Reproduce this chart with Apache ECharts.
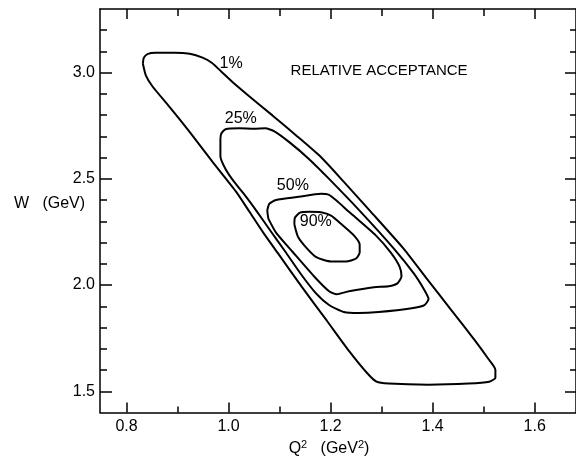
<!DOCTYPE html>
<html>
<head>
<meta charset="utf-8">
<script src="https://cdn.jsdelivr.net/npm/echarts/dist/echarts.min.js"></script>
<style>
html,body{margin:0;padding:0;background:#fff;}
#chart{width:576px;height:462px;}
</style>
</head>
<body>
<div id="chart"></div>
<script>
// Contour lines: [Q^2 (GeV^2), W (GeV)]
const contour1 = [
[0.832,3.043],[0.834,3.071],[0.842,3.089],[0.857,3.094],[0.894,3.094],[0.924,3.089],[0.949,3.071],[0.967,3.047],[0.986,3.005],[1.011,2.949],[1.041,2.888],[1.086,2.799],[1.132,2.706],[1.181,2.603],[1.226,2.486],[1.279,2.345],[1.343,2.172],[1.388,2.032],[1.435,1.887],[1.482,1.742],[1.509,1.653],[1.523,1.601],[1.523,1.564],[1.511,1.545],[1.470,1.536],[1.392,1.531],[1.314,1.536],[1.290,1.545],[1.271,1.587],[1.236,1.690],[1.193,1.831],[1.144,1.990],[1.097,2.149],[1.068,2.247],[1.041,2.345],[1.015,2.439],[0.969,2.579],[0.924,2.720],[0.885,2.837],[0.851,2.935],[0.838,2.986],[0.832,3.043]
];
const contour25 = [
[0.984,2.664],[0.984,2.687],[0.986,2.715],[0.994,2.734],[1.021,2.738],[1.050,2.736],[1.072,2.738],[1.090,2.724],[1.119,2.673],[1.158,2.593],[1.197,2.500],[1.259,2.345],[1.324,2.172],[1.363,2.055],[1.384,1.976],[1.392,1.934],[1.384,1.906],[1.359,1.891],[1.294,1.873],[1.255,1.868],[1.226,1.873],[1.197,1.906],[1.171,1.962],[1.142,2.051],[1.111,2.158],[1.082,2.256],[1.056,2.345],[1.033,2.420],[1.011,2.486],[0.994,2.547],[0.984,2.607],[0.984,2.664]
];
const contour50 = [
[1.078,2.313],[1.076,2.350],[1.080,2.383],[1.093,2.401],[1.138,2.416],[1.181,2.430],[1.197,2.425],[1.212,2.397],[1.236,2.345],[1.289,2.233],[1.318,2.153],[1.335,2.088],[1.339,2.041],[1.331,2.008],[1.314,1.994],[1.285,1.990],[1.236,1.971],[1.212,1.957],[1.197,1.971],[1.171,2.032],[1.125,2.158],[1.093,2.247],[1.078,2.313]
];
const contour90 = [
[1.129,2.285],[1.130,2.317],[1.140,2.341],[1.158,2.345],[1.181,2.343],[1.201,2.327],[1.222,2.285],[1.246,2.233],[1.257,2.191],[1.257,2.153],[1.250,2.125],[1.230,2.111],[1.201,2.111],[1.173,2.130],[1.154,2.172],[1.136,2.228],[1.129,2.285]
];
// Text annotations placed at data coordinates
const labelNames = ['1%','25%','50%','90%','RELATIVE ACCEPTANCE'];
const labelQ = [1.005, 1.024, 1.126, 1.171, 1.295];
const labelW = [3.042, 2.783, 2.467, 2.301, 3.010];
const labelSizes = [16, 16, 16, 16, 15];
// Tick values
const xMajorTicks = [0.8, 1.0, 1.2, 1.4, 1.6];
const xMinorTicks = [0.9, 1.1, 1.3, 1.5];
const yMajorTicks = [1.5, 2.0, 2.5, 3.0];
const yMinorTicks = [1.6, 1.7, 1.8, 1.9, 2.1, 2.2, 2.3, 2.4, 2.6, 2.7, 2.8, 2.9, 3.1, 3.2];

const FONT = "'Liberation Sans', Arial, sans-serif";
const INK = '#000';
const X_MIN = 0.748, X_MAX = 1.681, Y_MIN = 1.4, Y_MAX = 3.3;

function xAx(pos, ticks, len, showLine, showLabel, extra) {
  return Object.assign({
    type: 'value', position: pos, min: X_MIN, max: X_MAX,
    axisLine: {show: showLine, lineStyle: {color: INK, width: 1.5}},
    axisTick: {show: true, inside: true, length: len, customValues: ticks, lineStyle: {color: INK, width: 1.5}},
    axisLabel: {show: showLabel, customValues: ticks, formatter: v => v.toFixed(1), color: INK, fontFamily: FONT, fontSize: 16, margin: 6},
    splitLine: {show: false}
  }, extra || {});
}
function yAx(pos, ticks, len, showLine, showLabel) {
  return {
    type: 'value', position: pos, min: Y_MIN, max: Y_MAX,
    axisLine: {show: showLine, lineStyle: {color: INK, width: 1.5}},
    axisTick: {show: true, inside: true, length: len, customValues: ticks, lineStyle: {color: INK, width: 1.5}},
    axisLabel: {show: showLabel, customValues: ticks, formatter: v => v.toFixed(1), color: INK, fontFamily: FONT, fontSize: 16, margin: 5},
    splitLine: {show: false}
  };
}

const lineStyle = {color: INK, width: 2};
function contourSeries(data) {
  return {type: 'line', data: data, xAxisIndex: 0, yAxisIndex: 0, symbol: 'none', smooth: 0.2,
          lineStyle: lineStyle, silent: true, animation: false};
}

const chart = echarts.init(document.getElementById('chart'), null, {renderer: 'canvas'});
chart.setOption({
  backgroundColor: '#fff',
  animation: false,
  grid: {left: 100, right: -2, top: 9, bottom: 47, containLabel: false},
  xAxis: [
    xAx('bottom', xMajorTicks, 10, true, true, {
      name: 'Q{sup|2}   (GeV{sup|2})', nameLocation: 'middle', nameGap: 27,
      nameTextStyle: {color: INK, fontFamily: FONT, fontSize: 16, padding: [0, 18, 0, 0],
        rich: {sup: {fontSize: 11, fontFamily: FONT, color: INK, padding: [0, 0, 8, 0]}}}
    }),
    xAx('bottom', xMinorTicks, 6, false, false),
    xAx('top', xMajorTicks, 10, true, false),
    xAx('top', xMinorTicks, 7, false, false)
  ],
  yAxis: [
    yAx('left', yMajorTicks, 12, true, true),
    yAx('left', yMinorTicks, 7, false, false),
    yAx('right', yMajorTicks, 11, true, false),
    yAx('right', yMinorTicks, 6, false, false)
  ],
  graphic: [{
    type: 'text', left: 14, top: 196,
    style: {text: 'W   (GeV)', font: '16px ' + FONT, fill: INK}
  }],
  series: [
    contourSeries(contour1),
    contourSeries(contour25),
    contourSeries(contour50),
    contourSeries(contour90),
    {
      type: 'scatter', xAxisIndex: 0, yAxisIndex: 0, symbolSize: 0, silent: true, animation: false,
      itemStyle: {opacity: 1},
      data: labelNames.map((n, i) => ({name: n, value: [labelQ[i], labelW[i]],
        label: {fontSize: labelSizes[i]}})),
      label: {show: true, position: 'inside', formatter: p => p.name, color: INK,
              fontFamily: FONT, fontSize: 15, textBorderWidth: 0, opacity: 1}
    }
  ]
});
</script>
</body>
</html>
